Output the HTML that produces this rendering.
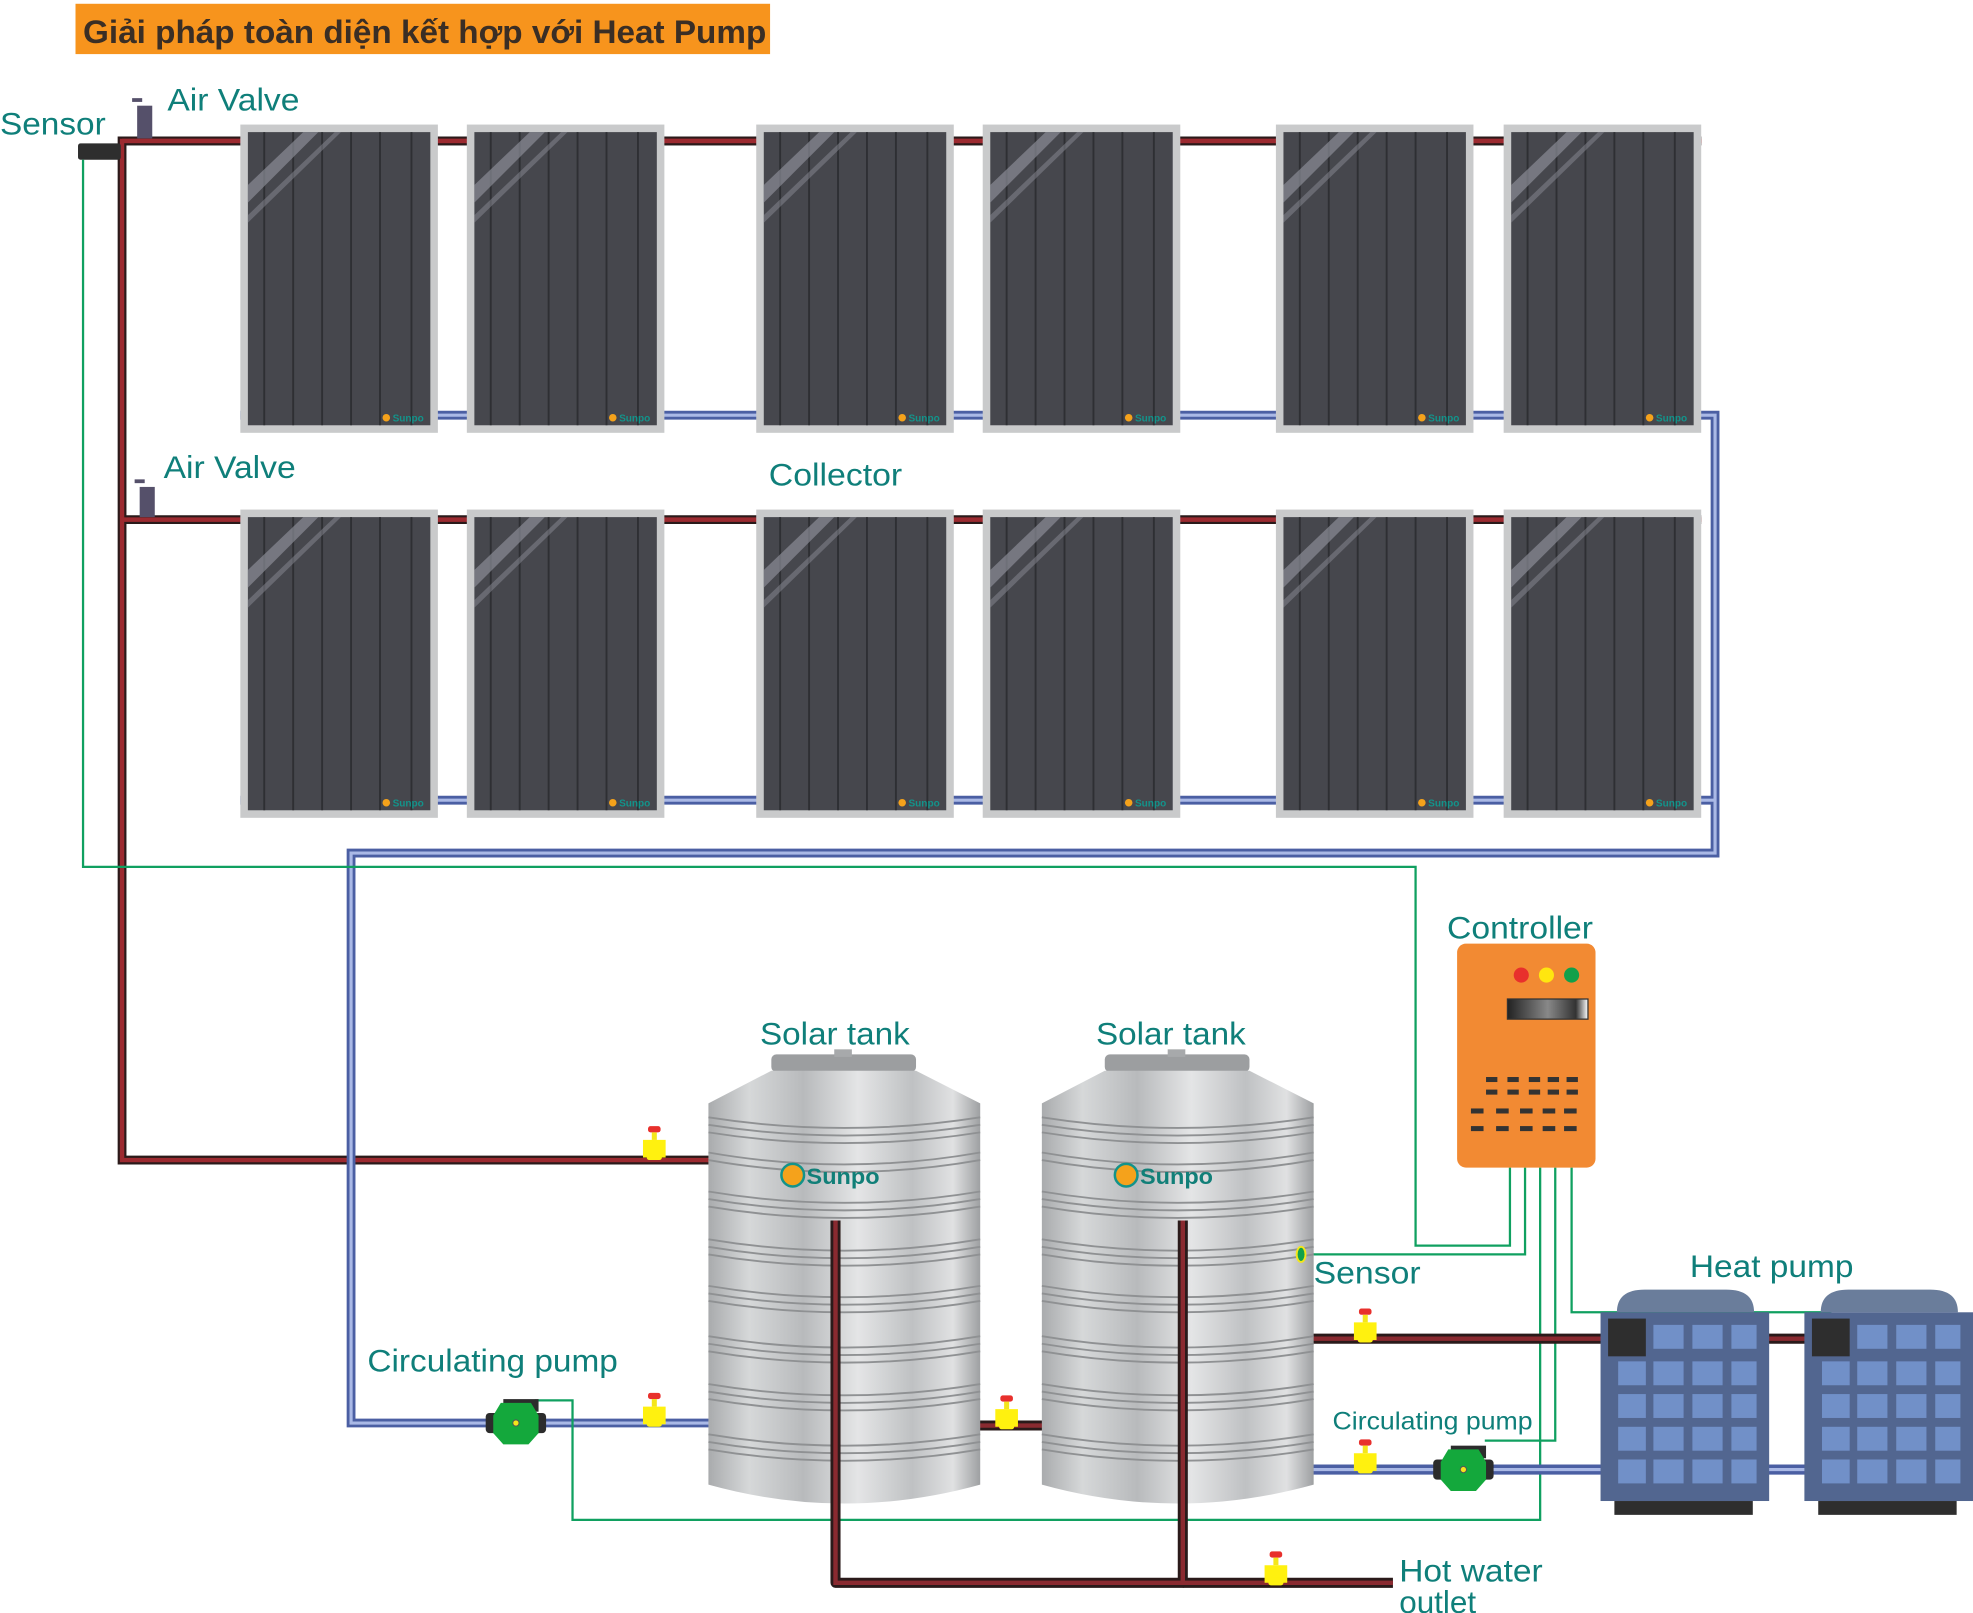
<!DOCTYPE html>
<html><head><meta charset="utf-8"><style>html,body{margin:0;padding:0;background:#fff}svg{display:block}</style></head><body>
<svg width="1973" height="1613" viewBox="0 0 1568 1282" preserveAspectRatio="none" xmlns="http://www.w3.org/2000/svg" font-family="Liberation Sans, sans-serif">
<defs>
<linearGradient id="tg" x1="0" x2="1" y1="0" y2="0">
<stop offset="0" stop-color="#a9abad"/><stop offset="0.15" stop-color="#d6d8d9"/><stop offset="0.35" stop-color="#b8babc"/><stop offset="0.55" stop-color="#e4e5e6"/><stop offset="0.75" stop-color="#bfc1c3"/><stop offset="0.9" stop-color="#e0e1e2"/><stop offset="1" stop-color="#9ea0a2"/></linearGradient>
<linearGradient id="ctl" x1="0" x2="1"><stop offset="0" stop-color="#222"/><stop offset="0.5" stop-color="#888"/><stop offset="0.85" stop-color="#333"/><stop offset="1" stop-color="#fff"/></linearGradient>
<g id="panel">
<rect x="0" y="0" width="157" height="245" fill="#c9cacb"/>
<rect x="6" y="6" width="145" height="233" fill="#46474d"/>
<g stroke="#2e2f33" stroke-width="1.5"><line x1="19" y1="6" x2="19" y2="239"/><line x1="42" y1="6" x2="42" y2="239"/><line x1="65" y1="6" x2="65" y2="239"/><line x1="88" y1="6" x2="88" y2="239"/><line x1="111" y1="6" x2="111" y2="239"/><line x1="136" y1="6" x2="136" y2="239"/></g>
<path d="M6,48 L50,6 L62,6 L6,62 Z" fill="#8a8c95" opacity="0.7"/>
<path d="M6,72 L75,6 L80,6 L6,78 Z" fill="#8a8c95" opacity="0.5"/>
<circle cx="116" cy="233" r="3" fill="#f5a21b"/>
<text x="121" y="236" font-size="8" fill="#13938a" font-weight="bold">Sunpo</text>
</g>
<g id="valve">
<rect x="-5" y="-17" width="10" height="5" rx="2" fill="#e8302c"/>
<rect x="-2" y="-12" width="4" height="6" fill="#f4e61a"/>
<path d="M-9,-6 L9,-6 L9,8 L-9,8 Z" fill="#fff10f"/>
<rect x="-6" y="4" width="12" height="6" rx="2" fill="#fff10f"/>
</g>
<g id="pump">
<rect x="-24" y="-8" width="48" height="16" rx="3" fill="#2c2c2c"/>
<rect x="-10" y="-19" width="28" height="10" fill="#2c2c2c"/>
<polygon points="-12,-16 12,-16 18,-6 18,8 10,17 -10,17 -18,8 -18,-6" fill="#14a83c"/>
<circle cx="0" cy="0" r="2.5" fill="#f4e61a" stroke="#555" stroke-width="0.8"/>
</g>
<g id="tank">
<rect x="50" y="838" width="115" height="14" rx="4" fill="#9c9ea0"/>
<rect x="100" y="834" width="14" height="6" fill="#a7a9ab"/>
<path d="M0,877 L50,851 L165,851 L216,877 L216,1180 Q108,1210 0,1180 Z" fill="url(#tg)"/>
<g fill="none" stroke="#8f9193" stroke-width="1.5">
<path d="M0,888 Q108,905 216,888"/><path d="M0,894 Q108,911 216,894"/><path d="M0,900 Q108,917 216,900"/>
<path d="M0,916 Q108,935 216,916"/><path d="M0,922 Q108,941 216,922"/>
<path d="M0,947 Q108,965 216,947"/><path d="M0,953 Q108,971 216,953"/><path d="M0,959 Q108,977 216,959"/>
<path d="M0,985 Q108,1003 216,985"/><path d="M0,991 Q108,1009 216,991"/><path d="M0,997 Q108,1015 216,997"/>
<path d="M0,1022 Q108,1040 216,1022"/><path d="M0,1028 Q108,1046 216,1028"/><path d="M0,1034 Q108,1052 216,1034"/>
<path d="M0,1062 Q108,1080 216,1062"/><path d="M0,1068 Q108,1086 216,1068"/><path d="M0,1074 Q108,1092 216,1074"/>
<path d="M0,1100 Q108,1118 216,1100"/><path d="M0,1106 Q108,1124 216,1106"/><path d="M0,1112 Q108,1130 216,1112"/>
<path d="M0,1140 Q108,1158 216,1140"/><path d="M0,1146 Q108,1164 216,1146"/><path d="M0,1152 Q108,1170 216,1152"/>
</g>
<circle cx="67" cy="934" r="9" fill="#f5a21b" stroke="#13938a" stroke-width="2"/>
<text x="78" y="941" font-size="18" font-weight="bold" fill="#117f78" textLength="58" lengthAdjust="spacingAndGlyphs">Sunpo</text>
</g>
<g id="hp">
<path d="M13,1043 Q13,1025 35,1025 L100,1025 Q122,1025 122,1043 Z" fill="#6a7d9b"/>
<rect x="0" y="1043" width="134" height="150" fill="#526690"/>
<rect x="11" y="1193" width="110" height="11" fill="#2e2e2e"/>
<rect x="6" y="1048" width="30" height="30" fill="#2e2e2e"/>
<g fill="#7190c8">
<rect x="42" y="1053" width="24" height="19"/><rect x="73" y="1053" width="24" height="19"/><rect x="104" y="1053" width="20" height="19"/>
<rect x="14" y="1082" width="22" height="19"/><rect x="42" y="1082" width="24" height="19"/><rect x="73" y="1082" width="24" height="19"/><rect x="104" y="1082" width="20" height="19"/>
<rect x="14" y="1108" width="22" height="19"/><rect x="42" y="1108" width="24" height="19"/><rect x="73" y="1108" width="24" height="19"/><rect x="104" y="1108" width="20" height="19"/>
<rect x="14" y="1134" width="22" height="19"/><rect x="42" y="1134" width="24" height="19"/><rect x="73" y="1134" width="24" height="19"/><rect x="104" y="1134" width="20" height="19"/>
<rect x="14" y="1160" width="22" height="19"/><rect x="42" y="1160" width="24" height="19"/><rect x="73" y="1160" width="24" height="19"/><rect x="104" y="1160" width="20" height="19"/>
</g>
</g>
</defs>

<rect x="60" y="3" width="552" height="40" fill="#f7941d"/>
<text x="66" y="34" font-size="26" font-weight="bold" fill="#3a2e25" textLength="543" lengthAdjust="spacingAndGlyphs">Giải pháp toàn diện kết hợp với Heat Pump</text>

<g fill="none" stroke="#2a1a1a" stroke-width="7">
<polyline points="97,112 1352,112"/><polyline points="97,413 1352,413"/>
<polyline points="1352,112 97,112 97,922 573,922"/>
</g>
<g fill="none" stroke="#9c2a30" stroke-width="3.5">
<polyline points="97,112 1352,112"/><polyline points="97,413 1352,413"/>
<polyline points="1352,112 97,112 97,922 573,922"/>
</g>
<g fill="none" stroke="#4b5fa3" stroke-width="7">
<polyline points="191,330 1363,330 1363,678 279,678 279,1131 573,1131"/>
<polyline points="191,636 1363,636"/>
</g>
<g fill="none" stroke="#aab9e6" stroke-width="2.5">
<polyline points="191,330 1363,330 1363,678 279,678 279,1131 573,1131"/>
<polyline points="191,636 1363,636"/>
</g>

<use href="#panel" x="191" y="99"/><use href="#panel" x="371" y="99"/><use href="#panel" x="601" y="99"/><use href="#panel" x="781" y="99"/><use href="#panel" x="1014" y="99"/><use href="#panel" x="1195" y="99"/>
<use href="#panel" x="191" y="405"/><use href="#panel" x="371" y="405"/><use href="#panel" x="601" y="405"/><use href="#panel" x="781" y="405"/><use href="#panel" x="1014" y="405"/><use href="#panel" x="1195" y="405"/>

<rect x="62" y="114" width="34" height="13" rx="2" fill="#2e2e2e"/>
<rect x="109" y="84" width="12" height="26" fill="#55506a"/><rect x="105" y="78" width="8" height="3" fill="#55506a"/>
<rect x="111" y="387" width="12" height="24" fill="#55506a"/><rect x="107" y="381" width="8" height="3" fill="#55506a"/>

<g fill="none" stroke="#10a060" stroke-width="1.8">
<polyline points="66,127 66,689 1125,689 1125,990 1200,990 1200,928"/>
<polyline points="1036,997 1212,997 1212,928"/>
<polyline points="425,1113 455,1113 455,1208 1224,1208 1224,928"/>
<polyline points="1180,1145 1236,1145 1236,928"/>
<polyline points="1249,928 1249,1043 1455,1043"/>
<polyline points="1290,1043 1290,1058"/><polyline points="1455,1043 1455,1058"/>
</g>

<rect x="1158" y="750" width="110" height="178" rx="7" fill="#f28a33"/>
<circle cx="1209" cy="775" r="6" fill="#e8302c"/><circle cx="1229" cy="775" r="6" fill="#ffe60f"/><circle cx="1249" cy="775" r="6" fill="#11a04a"/>
<rect x="1198" y="794" width="64" height="16" fill="url(#ctl)" stroke="#333"/>
<g fill="#333"><rect x="1181" y="856" width="9" height="4"/><rect x="1198" y="856" width="9" height="4"/><rect x="1215" y="856" width="9" height="4"/><rect x="1230" y="856" width="9" height="4"/><rect x="1245" y="856" width="9" height="4"/>
<rect x="1181" y="866" width="9" height="4"/><rect x="1198" y="866" width="9" height="4"/><rect x="1215" y="866" width="9" height="4"/><rect x="1230" y="866" width="9" height="4"/><rect x="1245" y="866" width="9" height="4"/>
<rect x="1169" y="881" width="10" height="4"/><rect x="1189" y="881" width="10" height="4"/><rect x="1208" y="881" width="10" height="4"/><rect x="1226" y="881" width="10" height="4"/><rect x="1243" y="881" width="10" height="4"/>
<rect x="1169" y="895" width="10" height="4"/><rect x="1189" y="895" width="10" height="4"/><rect x="1208" y="895" width="10" height="4"/><rect x="1226" y="895" width="10" height="4"/><rect x="1243" y="895" width="10" height="4"/></g>

<g fill="none" stroke-linecap="butt">
<path d="M1021,1064 L1435,1064" stroke="#2a1a1a" stroke-width="8"/><path d="M1021,1064 L1435,1064" stroke="#8a2a30" stroke-width="3.5"/>
<path d="M765,1133 L836,1133" stroke="#2a1a1a" stroke-width="8"/><path d="M765,1133 L836,1133" stroke="#8a2a30" stroke-width="3.5"/>
<path d="M1021,1168 L1435,1168" stroke="#4b5fa3" stroke-width="8"/><path d="M1021,1168 L1435,1168" stroke="#aab9e6" stroke-width="2.5"/>
</g>

<use href="#tank" x="563" y="0"/><use href="#tank" x="828" y="0"/>

<g fill="none">
<polyline points="664,970 664,1258 940,1258 940,970" stroke="#2a1a1a" stroke-width="8" stroke-linejoin="round"/>
<polyline points="940,1258 1107,1258" stroke="#2a1a1a" stroke-width="8"/>
<polyline points="664,970 664,1258 940,1258 940,970" stroke="#8a2a30" stroke-width="3.5"/>
<polyline points="940,1258 1107,1258" stroke="#8a2a30" stroke-width="3.5"/>
</g>
<ellipse cx="1034" cy="997" rx="3.5" ry="6" fill="#11a04a" stroke="#f4e61a" stroke-width="1.5"/>

<use href="#hp" x="1272" y="0"/><use href="#hp" x="1434" y="0"/>

<use href="#valve" x="520" y="912"/><use href="#valve" x="520" y="1124"/><use href="#valve" x="800" y="1126"/>
<use href="#valve" x="1085" y="1057"/><use href="#valve" x="1085" y="1161"/><use href="#valve" x="1014" y="1250"/>
<use href="#pump" x="410" y="1131"/><use href="#pump" x="1163" y="1168"/>

<g fill="#0f7f7a" font-size="25" lengthAdjust="spacingAndGlyphs">
<text x="0" y="107" textLength="84" lengthAdjust="spacingAndGlyphs">Sensor</text>
<text x="133" y="88" textLength="105" lengthAdjust="spacingAndGlyphs">Air Valve</text>
<text x="130" y="380" textLength="105" lengthAdjust="spacingAndGlyphs">Air Valve</text>
<text x="611" y="386" textLength="106" lengthAdjust="spacingAndGlyphs">Collector</text>
<text x="1150" y="746" textLength="116" lengthAdjust="spacingAndGlyphs">Controller</text>
<text x="604" y="830" textLength="119" lengthAdjust="spacingAndGlyphs">Solar tank</text>
<text x="871" y="830" textLength="119" lengthAdjust="spacingAndGlyphs">Solar tank</text>
<text x="1044" y="1020" textLength="85" lengthAdjust="spacingAndGlyphs">Sensor</text>
<text x="1343" y="1015" textLength="130" lengthAdjust="spacingAndGlyphs">Heat pump</text>
<text x="292" y="1090" textLength="199" lengthAdjust="spacingAndGlyphs">Circulating pump</text>
<text x="1059" y="1136" font-size="20" textLength="159" lengthAdjust="spacingAndGlyphs">Circulating pump</text>
<text x="1112" y="1257" textLength="114" lengthAdjust="spacingAndGlyphs">Hot water</text>
<text x="1112" y="1282">outlet</text>
</g>
</svg>
</body></html>
